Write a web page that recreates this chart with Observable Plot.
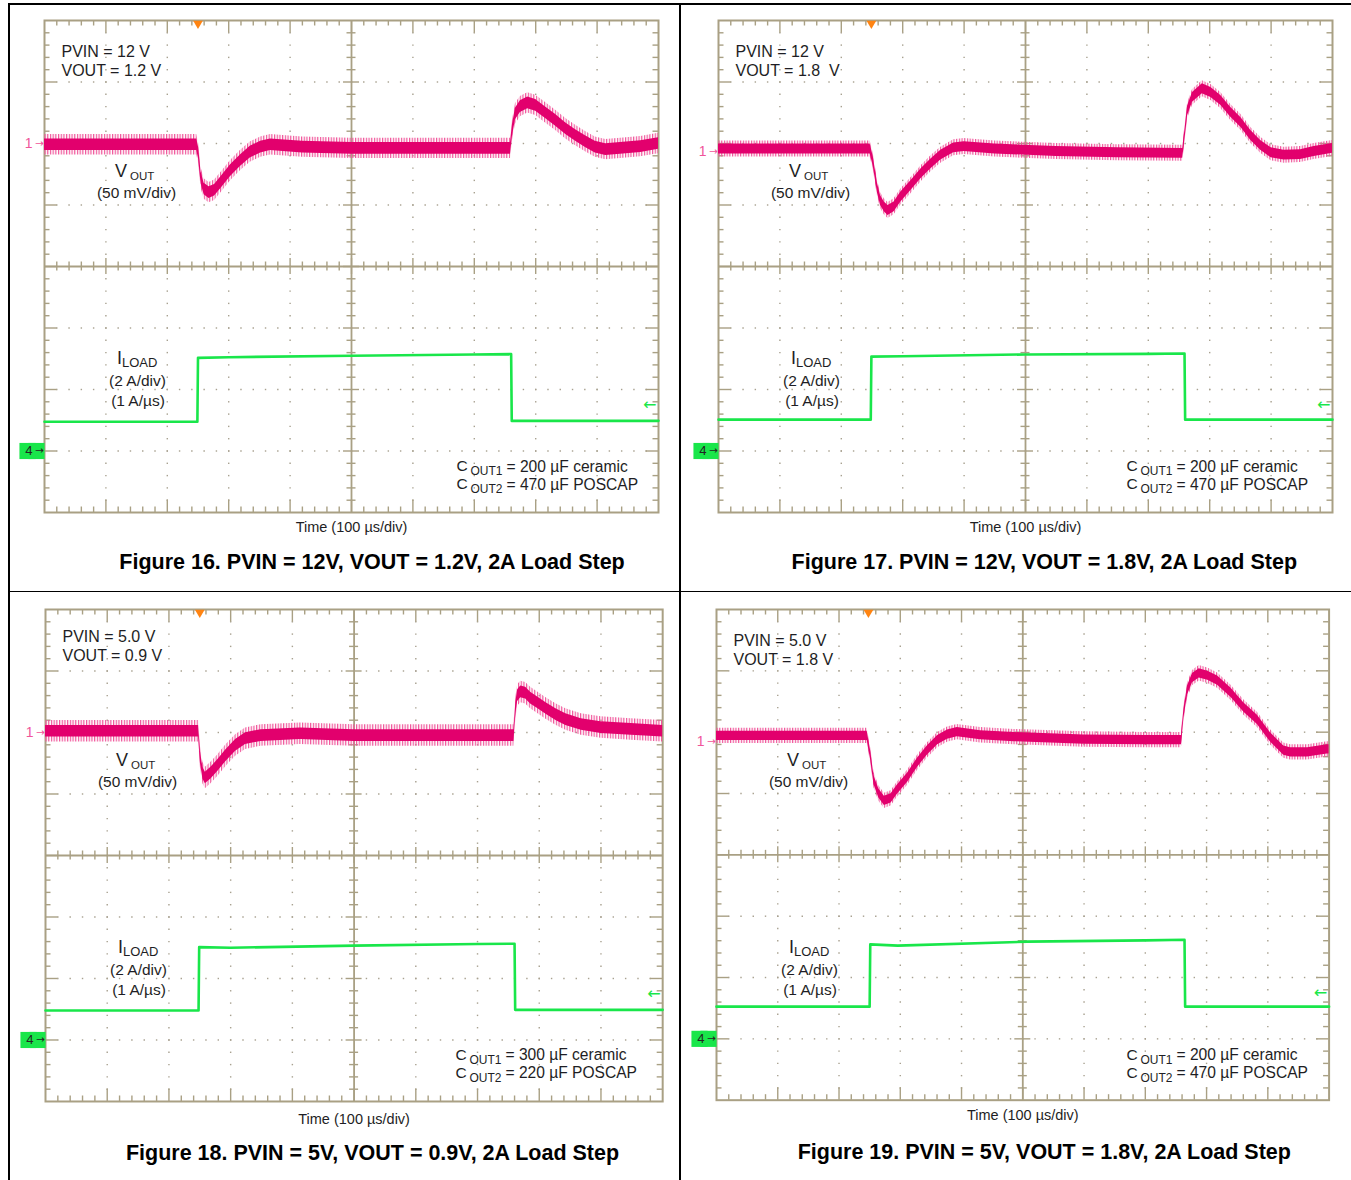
<!DOCTYPE html>
<html>
<head>
<meta charset="utf-8">
<script src="https://cdn.jsdelivr.net/npm/d3@7"></script>
<script src="https://cdn.jsdelivr.net/npm/@observablehq/plot@0.6"></script>
<style>
  html, body { margin: 0; padding: 0; background: #fff; }
  body { width: 1351px; height: 1180px; position: relative; overflow: hidden;
         font-family: "Liberation Sans", Arial, sans-serif; }
  .rule { position: absolute; background: #000; }
  svg.plot-panel { position: absolute; max-width: none !important; }
</style>
</head>
<body>
<svg width="0" height="0" style="position:absolute">
  <defs>
    <pattern id="spikes" patternUnits="userSpaceOnUse" width="2.7" height="12">
      <rect x="0" y="0" width="1.2" height="12" fill="#f0559a"></rect>
    </pattern>
  </defs>
</svg>
<div class="rule" style="left:8px;top:3px;width:1343px;height:1.5px"></div>
<div class="rule" style="left:8px;top:3px;width:1.5px;height:1177px"></div>
<div class="rule" style="left:679px;top:3px;width:1.5px;height:1177px"></div>
<div class="rule" style="left:8px;top:590.5px;width:1343px;height:1.5px"></div>
<script>
// ---------------- data (time in µs, VOUT deviation in mV, ILOAD in A) ----------------
const fig16VoutTime = [0, 248, 251, 255, 260, 268, 277, 287, 303, 319, 335, 352, 368, 420, 500, 600, 700, 759, 762, 767, 775, 787, 800, 816, 832, 849, 865, 881, 897, 914, 938, 971, 1000];
const fig16VoutMv   = [-1, -1, -8, -28, -37, -40, -38, -32, -22, -14, -7, -3, -1, -3, -4, -4, -4, -4, 10, 24, 30, 33, 31, 25, 19, 12, 6.5, 1.5, -3, -5, -4, -2.5, 0];
const fig16LoadTime = [0, 249, 250, 300, 500, 700, 760, 761, 1000];
const fig16LoadAmp  = [0.95, 0.95, 3.03, 3.05, 3.1, 3.14, 3.15, 0.98, 0.98];

const fig17VoutTime = [0, 100, 200, 247, 252, 259, 264, 270, 276, 286, 297, 313, 330, 346, 362, 383, 400, 450, 550, 650, 756, 760, 764, 772, 788, 802, 818, 834, 851, 867, 883, 900, 921, 948, 970, 1000];
const fig17VoutMv   = [2, 2, 2, 2, -8, -30, -40, -45, -48, -45, -37, -28, -18, -10, -3, 3, 4, 2, 0, -1, -1.5, 15, 33, 44, 51, 48, 41.5, 32, 23.5, 13, 5, -1, -3, -2.5, 0, 2.5];
const fig17LoadTime = [0, 248, 249, 300, 500, 700, 759, 760, 1000];
const fig17LoadAmp  = [1.02, 1.02, 3.07, 3.08, 3.14, 3.16, 3.17, 1.02, 1.02];

const fig18VoutTime = [0, 248, 251, 255, 259, 268, 279, 292, 308, 324, 349, 413, 500, 600, 700, 759, 762, 765, 770, 778, 786, 798, 811, 827, 843, 868, 900, 949, 1000];
const fig18VoutMv   = [1, 1, -20, -33, -37, -33, -27, -19, -10.5, -5, -2.5, -1, -2.5, -2.5, -2.5, -2.5, 19.5, 30, 33, 32, 28, 24, 19.5, 14.6, 10.5, 6.5, 4, 2.5, 1];
const fig18LoadTime = [0, 248, 249, 300, 500, 700, 760, 761, 1000];
const fig18LoadAmp  = [0.96, 0.96, 3.02, 3.0, 3.07, 3.12, 3.13, 0.98, 0.98];

const fig19VoutTime = [0, 100, 200, 246, 252, 257, 265, 274, 285, 295, 312, 328, 344, 361, 377, 393, 431, 486, 600, 700, 759, 763, 769, 777, 788, 802, 818, 840, 861, 883, 904, 926, 937, 965, 997, 1000];
const fig19VoutMv   = [5, 5, 5, 5, -12, -31, -42, -48, -46, -39, -29, -17, -7, 1.5, 6, 8, 5.5, 4, 2, 1.5, 1.5, 23, 42, 52, 56, 54, 50, 40, 28, 18, 4, -7, -8.5, -8.5, -6, -6];
const fig19LoadTime = [0, 250, 251, 296, 508, 700, 764, 765, 1000];
const fig19LoadAmp  = [1.05, 1.05, 3.08, 3.04, 3.17, 3.21, 3.23, 1.05, 1.05];

const figureTitles = [
  "Figure 16. PVIN = 12V, VOUT = 1.2V, 2A Load Step",
  "Figure 17. PVIN = 12V, VOUT = 1.8V, 2A Load Step",
  "Figure 18. PVIN = 5V, VOUT = 0.9V, 2A Load Step",
  "Figure 19. PVIN = 5V, VOUT = 1.8V, 2A Load Step"
];
const conditionLines = [
  ["PVIN = 12 V", "VOUT = 1.2 V"],
  ["PVIN = 12 V", "VOUT = 1.8  V"],
  ["PVIN = 5.0 V", "VOUT = 0.9 V"],
  ["PVIN = 5.0 V", "VOUT = 1.8 V"]
];
const cout1Labels = ["= 200 µF ceramic", "= 200 µF ceramic", "= 300 µF ceramic", "= 200 µF ceramic"];
const cout2Labels = ["= 470 µF POSCAP", "= 470 µF POSCAP", "= 220 µF POSCAP", "= 470 µF POSCAP"];
const timeLabel = "Time (100 µs/div)";
const voutScaleLabel = "(50 mV/div)";
const loadScaleLabels = ["(2 A/div)", "(1 A/µs)"];

const voutTimes = [fig16VoutTime, fig17VoutTime, fig18VoutTime, fig19VoutTime];
const voutMvs   = [fig16VoutMv, fig17VoutMv, fig18VoutMv, fig19VoutMv];
const loadTimes = [fig16LoadTime, fig17LoadTime, fig18LoadTime, fig19LoadTime];
const loadAmps  = [fig16LoadAmp, fig17LoadAmp, fig18LoadAmp, fig19LoadAmp];

// scope settings (divisions) and noise band (mV p-p) per capture
const voutRefDiv = [2.0, 1.87, 2.0, 1.84];
const loadRefDiv = [-3, -3, -3, -3];
const noisePP    = [9.5, 8, 9.5, 7.5];
const spikeMv    = [3.5, 2.5, 4, 2.5];
const triggerTime = [250, 249, 250, 248];
const triggerLevelA = [1.5, 1.5, 1.5, 1.5];

// ---------------- layout ----------------
const layouts = [
  {frame: [44, 20, 658, 512],       titleX: 371.5,  infoDy: 0,    coutDx: 412, timeDy: 14.5, titleDy: 50},
  {frame: [717.7, 20, 1331.7, 512], titleX: 1043.5, infoDy: 0,    coutDx: 408, timeDy: 15,   titleDy: 50},
  {frame: [44.5, 609, 661.7, 1101], titleX: 371.5,  infoDy: -3.5, coutDx: 410, timeDy: 18,   titleDy: 52},
  {frame: [715.7, 609.3, 1328.3, 1100], titleX: 1043.5, infoDy: 0.5, coutDx: 410, timeDy: 15, titleDy: 52}
];

const GRID = "#a9a084";
const DOTS = "#a8a190";
const PINK = "#e2006d";
const PINK_LIGHT = "#f0559a";
const GREEN = "#19e64a";
const TEXT = "#1e1e24";
const FONT = "Liberation Sans, Arial, sans-serif";
const ARROW_FONT = "DejaVu Sans, sans-serif";

const mL = 40, mT = 18, mR = 26, mB = 66;

figureTitles.forEach((title, i) => {
  const L = layouts[i];
  const [fl, ft, fr, fb] = L.frame;
  const fw = fr - fl, fh = fb - ft;
  const vref = voutRefDiv[i], iref = loadRefDiv[i], n = noisePP[i], s = spikeMv[i];

  const vout = voutTimes[i].map((t, k) => ({t, mv: voutMvs[i][k]}));
  const load = loadTimes[i].map((t, k) => ({t, a: loadAmps[i][k]}));

  // graticule (10 x 8 divisions, 5 minor per division)
  const minorX = d3.range(1, 50).map(k => k * 20);
  const minorY = d3.range(1, 40).map(k => -4 + k * 0.2);
  const majorX = d3.range(1, 10).map(k => k * 100).filter(v => v !== 500);
  const majorY = d3.range(1, 8).map(k => k - 4).filter(v => v !== 0);
  const gridDots = [
    ...d3.cross(majorX, minorY).map(([x, y]) => ({x, y})),
    ...d3.cross(minorX, majorY).map(([x, y]) => ({x, y}))
  ];
  const isMajX = v => Math.abs(v / 100 - Math.round(v / 100)) < 1e-6;
  const isMajY = v => Math.abs(v - Math.round(v)) < 1e-6;
  const minX = minorX.filter(v => !isMajX(v)), majX = minorX.filter(isMajX);
  const minY = minorY.filter(v => !isMajY(v)), majY = minorY.filter(isMajY);

  const textMark = (str, o) => Plot.text([str], {frameAnchor: "top-left", textAnchor: "start",
    lineAnchor: "middle", fill: TEXT, fontSize: 15.5, ...o});

  const info = conditionLines[i];
  const cx = L.coutDx;

  const plot = Plot.plot({
    width: fw + mL + mR, height: fh + mT + mB,
    marginLeft: mL, marginTop: mT, marginRight: mR, marginBottom: mB,
    x: {domain: [0, 1000], axis: null},
    y: {domain: [-4, 4], axis: null},
    style: {background: "transparent", overflow: "visible", fontFamily: FONT},
    marks: [
      // dotted grid
      Plot.dot(gridDots, {x: "x", y: "y", symbol: "square", r: 0.8, fill: DOTS, stroke: null}),
      // center cross-hair
      Plot.ruleX([500], {stroke: GRID, strokeWidth: 1.8}),
      Plot.ruleY([0], {stroke: GRID, strokeWidth: 1.8}),
      // ticks on center lines
      Plot.ruleX(minX, {x: d => d, y1: 0, y2: 0, insetTop: -4.5, insetBottom: -4.5, stroke: GRID, strokeWidth: 1.4}),
      Plot.ruleX(majX, {x: d => d, y1: 0, y2: 0, insetTop: -8, insetBottom: -8, stroke: GRID, strokeWidth: 1.4}),
      Plot.ruleY(minY, {y: d => d, x1: 500, x2: 500, insetLeft: -4.5, insetRight: -4.5, stroke: GRID, strokeWidth: 1.4}),
      Plot.ruleY(majY, {y: d => d, x1: 500, x2: 500, insetLeft: -8, insetRight: -8, stroke: GRID, strokeWidth: 1.4}),
      // ticks on frame edges (pointing inward)
      Plot.ruleX(minX, {x: d => d, insetBottom: fh - 5.5, stroke: GRID, strokeWidth: 1.4}),
      Plot.ruleX(majX, {x: d => d, insetBottom: fh - 12.5, stroke: GRID, strokeWidth: 1.4}),
      Plot.ruleX(minX, {x: d => d, insetTop: fh - 5.5, stroke: GRID, strokeWidth: 1.4}),
      Plot.ruleX(majX, {x: d => d, insetTop: fh - 12.5, stroke: GRID, strokeWidth: 1.4}),
      Plot.ruleY(minY, {y: d => d, insetRight: fw - 5.5, stroke: GRID, strokeWidth: 1.4}),
      Plot.ruleY(majY, {y: d => d, insetRight: fw - 12.5, stroke: GRID, strokeWidth: 1.4}),
      Plot.ruleY(minY, {y: d => d, insetLeft: fw - 5.5, stroke: GRID, strokeWidth: 1.4}),
      Plot.ruleY(majY, {y: d => d, insetLeft: fw - 12.5, stroke: GRID, strokeWidth: 1.4}),
      Plot.frame({stroke: GRID, strokeWidth: 2}),

      // VOUT trace: noise spikes (vertical hatch) + dense core band
      Plot.areaY(vout, {x: "t", y1: d => vref + (d.mv - n / 2 - s) / 50, y2: d => vref + (d.mv + n / 2 + s) / 50,
        fill: "url(#spikes)"}),
      Plot.areaY(vout, {x: "t", y1: d => vref + (d.mv - n / 2) / 50, y2: d => vref + (d.mv + n / 2) / 50,
        fill: PINK}),

      // ILOAD trace
      Plot.line(load, {x: "t", y: d => iref + d.a / 2, stroke: GREEN, strokeWidth: 2.6}),

      // channel 1 reference marker
      Plot.text(["1"], {y: [vref], frameAnchor: "left", textAnchor: "end", dx: -12, fill: PINK_LIGHT, fontSize: 14}),
      Plot.text(["→"], {y: [vref], frameAnchor: "left", textAnchor: "end", dx: -0.5, fill: PINK_LIGHT, fontSize: 10.5, fontFamily: ARROW_FONT}),
      // channel 4 reference marker (green tag)
      Plot.dot([iref], {y: d => d, frameAnchor: "left", symbol: "square", r: 9.1, dx: -8, fill: GREEN, stroke: null}),
      Plot.dot([iref], {y: d => d, frameAnchor: "left", symbol: "square", r: 9.1, dx: -17, fill: GREEN, stroke: null}),
      Plot.text(["4"], {y: [iref], frameAnchor: "left", textAnchor: "end", dx: -12, fill: "#222", fontSize: 13}),
      Plot.text(["→"], {y: [iref], frameAnchor: "left", textAnchor: "end", dx: -0.5, fill: "#222", fontSize: 10.5, fontFamily: ARROW_FONT}),
      // trigger position and trigger level markers
      Plot.dot([triggerTime[i]], {x: d => d, frameAnchor: "top", symbol: "triangle", rotate: 180, r: 3.6, dy: 3, fill: "#ff8412", stroke: null}),
      Plot.text(["←"], {y: [iref + triggerLevelA[i] / 2], frameAnchor: "right", textAnchor: "end", dx: -2, fill: GREEN, fontSize: 16, fontFamily: ARROW_FONT}),

      // condition labels
      textMark(info[0], {dx: 17, dy: 31 + L.infoDy, fontSize: 16}),
      textMark(info[1], {dx: 17, dy: 50 + L.infoDy, fontSize: 16}),
      // VOUT label
      textMark("V", {dx: 70.5, dy: 151, fontSize: 18}),
      textMark("OUT", {dx: 85.5, dy: 155.5, fontSize: 11.5}),
      textMark(voutScaleLabel, {dx: 92, dy: 173, textAnchor: "middle"}),
      // ILOAD label
      textMark("I", {dx: 72.5, dy: 337.5, fontSize: 18}),
      textMark("LOAD", {dx: 77.5, dy: 342, fontSize: 13}),
      textMark(loadScaleLabels[0], {dx: 93, dy: 361, textAnchor: "middle"}),
      textMark(loadScaleLabels[1], {dx: 93.5, dy: 381, textAnchor: "middle"}),
      // output capacitor labels
      textMark("C", {dx: cx, dy: 446, fontSize: 15.5}),
      textMark("OUT1", {dx: cx + 14, dy: 450.5, fontSize: 12}),
      textMark(cout1Labels[i], {dx: cx + 50, dy: 446, fontSize: 15.6}),
      textMark("C", {dx: cx, dy: 464, fontSize: 15.5}),
      textMark("OUT2", {dx: cx + 14, dy: 468.5, fontSize: 12}),
      textMark(cout2Labels[i], {dx: cx + 50, dy: 464, fontSize: 15.6}),
      // time axis label
      Plot.text([timeLabel], {frameAnchor: "bottom", lineAnchor: "middle", dy: L.timeDy, fill: TEXT, fontSize: 14.5}),
      // figure caption
      Plot.text([title], {frameAnchor: "bottom", lineAnchor: "middle", dx: L.titleX - (fl + fr) / 2, dy: L.titleDy,
        fill: "#000", fontSize: 21.5, fontWeight: "bold"})
    ]
  });
  plot.classList.add("plot-panel");
  plot.style.left = (fl - mL) + "px";
  plot.style.top = (ft - mT) + "px";
  document.body.appendChild(plot);
});
</script>
</body>
</html>
